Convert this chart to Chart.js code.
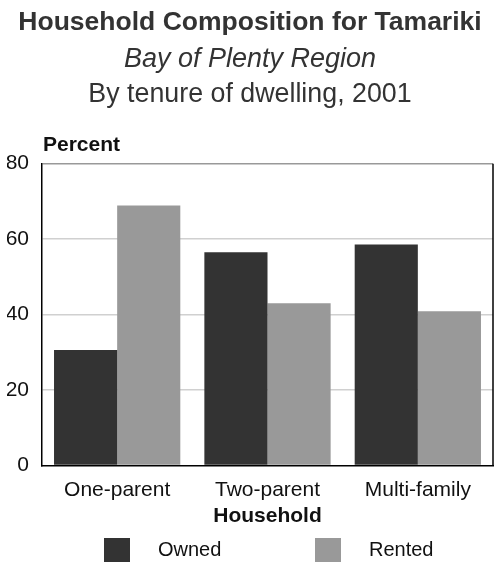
<!DOCTYPE html>
<html>
<head>
<meta charset="utf-8">
<script src="https://cdn.jsdelivr.net/npm/chart.js@4/dist/chart.umd.min.js"></script>
<style>
  body { margin: 0; background: #fff; }
  #wrap { width: 500px; height: 563px; position: relative; }
</style>
</head>
<body>
<div id="wrap"><canvas id="tenureBar"></canvas></div>
<script>
const categories = ["One-parent", "Two-parent", "Multi-family"];
const owned = [30.6, 56.5, 58.6];
const rented = [68.9, 43.0, 40.9];
const seriesNames = ["Owned", "Rented"];
const seriesColors = ["#333333", "#999999"];
const yTicks = [0, 20, 40, 60, 80];

const FONT = "'Liberation Sans', Arial, Helvetica, sans-serif";

// extra texts, right border and legend drawn on canvas
const extrasPlugin = {
  id: "extras",
  afterDraw: (chart) => {
    const ctx = chart.ctx;
    const a = chart.chartArea;
    ctx.save();

    // third title line
    ctx.font = "26.8px " + FONT;
    ctx.fillStyle = "#333";
    ctx.textAlign = "center";
    ctx.textBaseline = "middle";
    ctx.fillText("By tenure of dwelling, 2001", chart.width / 2, a.top - 69.5);

    // y axis caption
    ctx.font = "bold 21px " + FONT;
    ctx.fillStyle = "#111";
    ctx.textAlign = "left";
    ctx.fillText("Percent", a.left + 1, a.top - 18);

    // right frame line
    ctx.strokeStyle = "#000";
    ctx.lineWidth = 1.5;
    ctx.beginPath();
    ctx.moveTo(a.right, a.top);
    ctx.lineTo(a.right, a.bottom);
    ctx.stroke();

    // legend
    const slot = 211;
    const x0 = (a.left + a.right) / 2 - 163.5;
    const yBox = chart.height - 25;
    ctx.font = "20px " + FONT;
    chart.data.datasets.forEach((ds, i) => {
      const x = x0 + i * slot;
      ctx.fillStyle = ds.backgroundColor;
      ctx.fillRect(x, yBox, 26, 24);
      ctx.fillStyle = "#111";
      ctx.fillText(ds.label, x + 54, yBox + 12);
    });
    ctx.restore();
  }
};

new Chart(document.getElementById("tenureBar"), {
  type: "bar",
  data: {
    labels: categories,
    datasets: [
      { label: seriesNames[0], data: owned, backgroundColor: seriesColors[0] },
      { label: seriesNames[1], data: rented, backgroundColor: seriesColors[1] }
    ]
  },
  options: {
    responsive: true,
    maintainAspectRatio: false,
    animation: false,
    categoryPercentage: 0.84,
    barPercentage: 1,
    layout: { padding: { left: 7, right: 7, top: 0, bottom: 34 } },
    plugins: {
      legend: { display: false },
      tooltip: { enabled: false },
      title: {
        display: true,
        text: "Household Composition for Tamariki",
        color: "#333",
        font: { family: FONT, size: 26.5, weight: "bold" },
        padding: { top: 7, bottom: 0 }
      },
      subtitle: {
        display: true,
        text: "Bay of Plenty Region",
        color: "#333",
        font: { family: FONT, size: 27, style: "italic" },
        padding: { top: 4.5, bottom: 88 }
      }
    },
    scales: {
      x: {
        afterFit: (axis) => { axis.height = 63.5; },
        grid: { drawOnChartArea: false, drawTicks: false },
        border: { color: "#000", width: 1.5 },
        ticks: { color: "#111", font: { family: FONT, size: 21 }, padding: 12 },
        title: {
          display: true,
          text: "Household",
          color: "#111",
          font: { family: FONT, size: 21, weight: "bold" },
          padding: { top: 2, bottom: 0 }
        }
      },
      y: {
        min: 0,
        max: 80,
        afterFit: (axis) => { axis.width = 35; },
        afterBuildTicks: (axis) => { axis.ticks = yTicks.map(v => ({ value: v })); },
        grid: {
          drawTicks: false,
          lineWidth: 1.5,
          color: (c) => c.tick && c.tick.value === 80 ? "#999" : (c.tick && c.tick.value === 0 ? "rgba(0,0,0,0)" : "#d0d0d0")
        },
        border: { color: "#000", width: 1.5 },
        ticks: { color: "#111", font: { family: FONT, size: 21 }, padding: 13 }
      }
    }
  },
  plugins: [extrasPlugin]
});
</script>
</body>
</html>
